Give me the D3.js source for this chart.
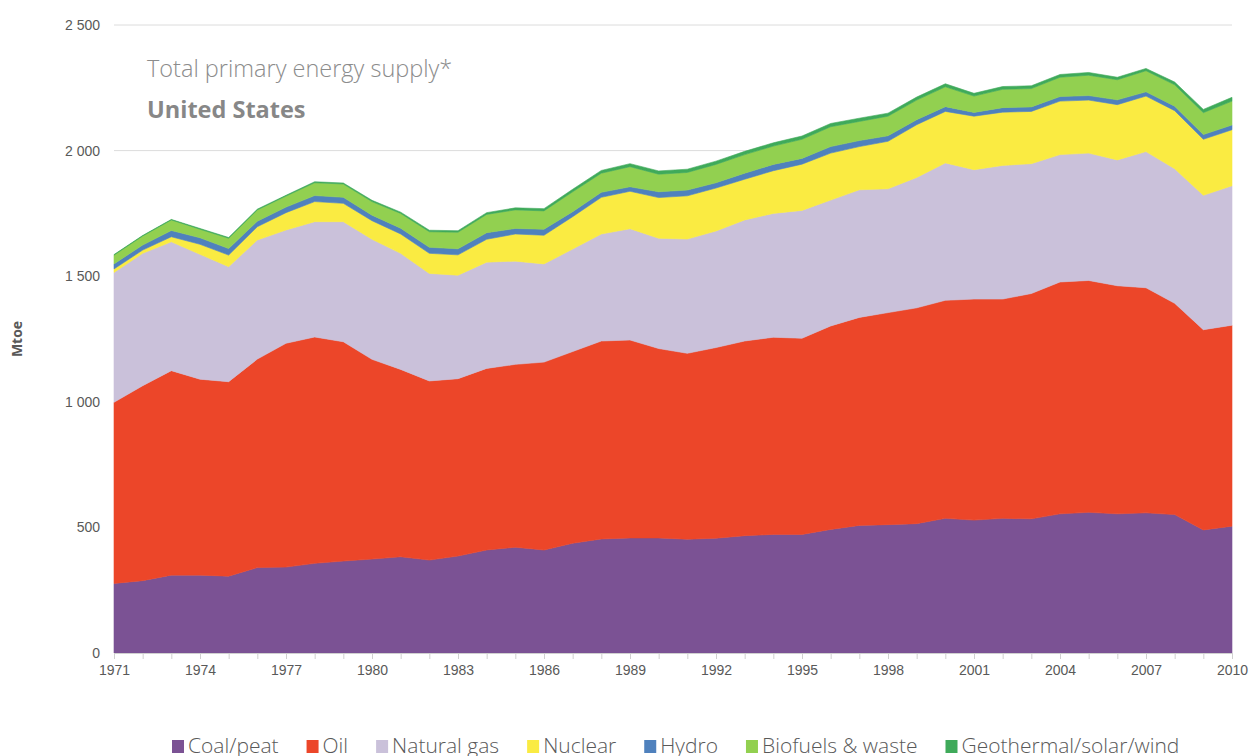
<!DOCTYPE html>
<html lang="en">
<head>
  <meta charset="UTF-8">
  <title>Total primary energy supply - United States</title>
  <script src="https://cdn.jsdelivr.net/npm/d3@7"></script>
  <style>
    body { margin: 0; background: #fff; }
    svg { display: block; font-family: "Open Sans", "Noto Sans", sans-serif; }
  </style>
</head>
<body>
  <div id="chart"></div>
  <script>
    // data (Mtoe)
    const years = d3.range(1971, 2011);
    const coal = [277, 288, 310, 310, 306, 340, 342, 357, 366, 374, 383, 370, 386, 410, 421, 410, 437, 454, 458, 458,
                  453, 457, 467, 472, 472, 492, 508, 511, 515, 536, 529, 536, 534, 554, 560, 554, 558, 551, 490, 505];
    const oil = [721, 776, 814, 780, 774, 830, 891, 901, 873, 795, 746, 713, 706, 723, 728, 748, 763, 788, 788, 754,
                 740, 759, 775, 785, 781, 810, 828, 844, 859, 868, 880, 873, 897, 923, 923, 908, 896, 841, 797, 800];
    const gas = [517, 527, 513, 497, 458, 474, 451, 459, 478, 478, 462, 428, 412, 423, 411, 391, 408, 426, 443, 439,
                 455, 464, 482, 493, 509, 501, 508, 493, 519, 547, 515, 532, 517, 507, 507, 501, 542, 536, 535, 555];
    const nuclear = [14, 13, 20, 40, 46, 53, 69, 80, 73, 74, 77, 80, 81, 91, 108, 114, 129, 146, 149, 162,
                     172, 171, 162, 170, 184, 187, 172, 189, 210, 205, 213, 212, 208, 213, 211, 220, 221, 231, 223, 223];
    const hydro = [20, 20, 25, 26, 26, 22, 22, 24, 24, 22, 23, 24, 24, 26, 22, 24, 20, 20, 18, 23,
                   23, 21, 24, 25, 23, 26, 24, 22, 20, 19, 15, 18, 18, 18, 18, 19, 17, 18, 19, 19];
    const biofuels = [35, 36, 42, 34, 41, 45, 44, 51, 53, 54, 59, 62, 66, 73, 74, 73, 79, 76, 80, 70,
                      70, 73, 74, 73, 76, 79, 76, 78, 78, 79, 65, 73, 73, 77, 81, 80, 84, 85, 87, 95];
    const geothermal = [2, 2, 2, 3, 3, 3, 3, 4, 4, 5, 5, 6, 6, 7, 8, 9, 10, 11, 12, 13,
                        13, 13, 13, 13, 13, 13, 13, 12, 12, 12, 11, 11, 11, 11, 11, 10, 9, 11, 13, 15];

    const series = [
      { key: "coal", label: "Coal/peat", color: "#7b5294", values: coal },
      { key: "oil", label: "Oil", color: "#ec4629", values: oil },
      { key: "gas", label: "Natural gas", color: "#cac1da", values: gas },
      { key: "nuclear", label: "Nuclear", color: "#faeb42", values: nuclear },
      { key: "hydro", label: "Hydro", color: "#4f81bd", values: hydro },
      { key: "biofuels", label: "Biofuels & waste", color: "#92d050", values: biofuels },
      { key: "geothermal", label: "Geothermal/solar/wind", color: "#3faa5a", values: geothermal }
    ];
    const yTicks = [0, 500, 1000, 1500, 2000, 2500];
    const xLabelYears = d3.range(1971, 2011, 3);

    const width = 1253, height = 756;
    const margin = { top: 25, right: 21, bottom: 103, left: 114 };

    const rows = years.map((yr, i) => {
      const r = { year: yr };
      series.forEach(s => r[s.key] = s.values[i]);
      return r;
    });
    const stacked = d3.stack().keys(series.map(s => s.key))(rows);

    const svg = d3.select("#chart").append("svg")
      .attr("width", width)
      .attr("height", height);

    const x = d3.scaleLinear()
      .domain([1971, 2010])
      .range([margin.left, width - margin.right]);
    const y = d3.scaleLinear()
      .domain([0, 2500])
      .range([height - margin.bottom, margin.top]);

    // gridlines
    svg.append("g")
      .selectAll("line")
      .data(yTicks.filter(d => d > 0))
      .join("line")
      .attr("x1", x(1971))
      .attr("x2", x(2010))
      .attr("y1", d => y(d))
      .attr("y2", d => y(d))
      .attr("stroke", "#dcdcdc")
      .attr("stroke-width", 1);

    const area = d3.area()
      .x(d => x(d.data.year))
      .y0(d => y(d[0]))
      .y1(d => y(d[1]));

    svg.append("g")
      .selectAll("path")
      .data(stacked)
      .join("path")
      .attr("fill", (d, i) => series[i].color)
      .attr("stroke", (d, i) => series[i].color)
      .attr("stroke-width", 0.6)
      .attr("d", area);

    // x axis
    const xAxis = svg.append("g")
      .attr("transform", `translate(0,${y(0)})`)
      .call(d3.axisBottom(x)
        .tickValues(years)
        .tickSize(6)
        .tickFormat(d => xLabelYears.includes(d) ? d : ""));
    xAxis.select(".domain").attr("stroke", "#d0d0d0");
    xAxis.selectAll(".tick line").attr("stroke", "#d0d0d0");
    xAxis.selectAll(".tick text")
      .attr("dy", "0.95em")
      .attr("fill", "#595959")
      .style("font-size", "14px");

    // y axis
    const yAxis = svg.append("g")
      .attr("transform", `translate(${margin.left},0)`)
      .call(d3.axisLeft(y)
        .tickValues(yTicks)
        .tickSize(0)
        .tickPadding(14)
        .tickFormat(d => d3.format(",")(d).replace(",", " ")));
    yAxis.select(".domain").remove();
    yAxis.selectAll(".tick text")
      .attr("fill", "#595959")
      .style("font-size", "14px");

    svg.append("text")
      .attr("transform", `translate(22,${y(1250)}) rotate(-90)`)
      .attr("text-anchor", "middle")
      .attr("fill", "#595959")
      .style("font-size", "14px")
      .style("font-weight", "bold")
      .text("Mtoe");

    // titles
    svg.append("text")
      .attr("x", 147)
      .attr("y", 77)
      .attr("fill", "#8c8c8c")
      .style("font-size", "23.5px")
      .style("font-weight", 300)
      .text("Total primary energy supply*");
    svg.append("text")
      .attr("x", 147)
      .attr("y", 118)
      .attr("fill", "#878787")
      .style("font-size", "23.5px")
      .style("font-weight", "bold")
      .text("United States");

    // legend
    const legend = svg.append("g").attr("transform", "translate(172,753)");
    let lx = 0;
    series.forEach(s => {
      const g = legend.append("g").attr("transform", `translate(${lx},0)`);
      g.append("rect")
        .attr("x", 0)
        .attr("y", -13)
        .attr("width", 12)
        .attr("height", 13)
        .attr("fill", s.color);
      const t = g.append("text")
        .attr("x", 16)
        .attr("y", 0)
        .attr("fill", "#595959")
        .style("font-size", "21px")
        .style("font-weight", 300)
        .text(s.label);
      lx += 16 + t.node().getComputedTextLength() + 28;
    });
  </script>
</body>
</html>
